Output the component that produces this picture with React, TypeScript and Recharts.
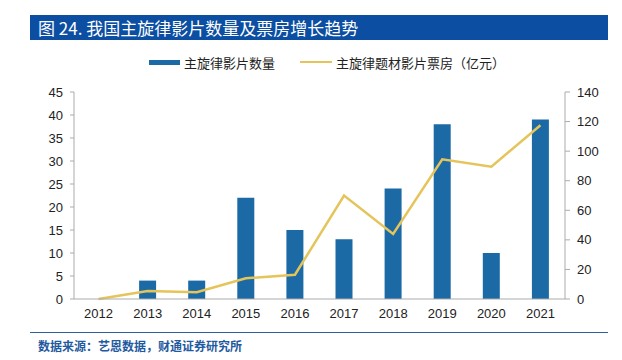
import React from "react";
import {
  ComposedChart,
  Bar,
  Line,
  XAxis,
  YAxis,
} from "recharts";

const years = ["2012", "2013", "2014", "2015", "2016", "2017", "2018", "2019", "2020", "2021"];
const filmCount = [0, 4, 4, 22, 15, 13, 24, 38, 10, 39];
const boxOffice = [0, 5.4, 4.6, 14, 16.4, 70, 44, 94.5, 89.5, 117.5];
const leftTicks = [0, 5, 10, 15, 20, 25, 30, 35, 40, 45];
const rightTicks = [0, 20, 40, 60, 80, 100, 120, 140];

const data = years.map((year, i) => ({
  year,
  count: filmCount[i],
  box: boxOffice[i],
}));

const BAR_COLOR = "#1B6AA5";
const LINE_COLOR = "#E5C45A";
const AXIS_COLOR = "#ababab";
const numFont = "'Liberation Sans', Arial, sans-serif";
const cjkFont = "'Noto Sans CJK SC', sans-serif";

export default function App() {
  return (
    <div
      style={{
        position: "absolute",
        left: 0,
        top: 0,
        width: 622,
        height: 360,
        background: "#fff",
        overflow: "hidden",
      }}
    >
      {/* title band */}
      <div
        style={{
          position: "absolute",
          left: 30,
          top: 15,
          width: 578,
          height: 25,
          background: "#0B4EA2",
          color: "#fff",
          fontFamily: cjkFont,
          fontSize: 17,
          lineHeight: "25px",
          paddingLeft: 8,
          boxSizing: "border-box",
        }}
      >
        图 24. 我国主旋律影片数量及票房增长趋势
      </div>

      {/* legend */}
      <div
        style={{
          position: "absolute",
          top: 53,
          left: 149,
          display: "flex",
          alignItems: "center",
          fontFamily: cjkFont,
          fontSize: 13,
          color: "#222",
          height: 18,
        }}
      >
        <span style={{ display: "inline-block", width: 31, height: 5, background: BAR_COLOR, marginRight: 4 }} />
        <span>主旋律影片数量</span>
        <span style={{ display: "inline-block", width: 32, height: 2, background: LINE_COLOR, marginLeft: 25, marginRight: 4 }} />
        <span>主旋律题材影片票房（亿元）</span>
      </div>

      <div style={{ position: "absolute", left: 0, top: 0 }}>
        <ComposedChart
          width={622}
          height={360}
          data={data}
          margin={{ top: 92, right: 17, left: 34, bottom: 31 }}
        >
          <XAxis
            dataKey="year"
            axisLine={{ stroke: AXIS_COLOR }}
            tickLine={false}
            tick={{ fill: "#222", fontSize: 13, fontFamily: numFont }}
            tickMargin={4}
            height={30}
            interval={0}
          />
          <YAxis
            yAxisId="left"
            domain={[0, 45]}
            ticks={leftTicks}
            width={40}
            axisLine={{ stroke: AXIS_COLOR }}
            tickLine={{ stroke: AXIS_COLOR }}
            tickSize={4}
            tickMargin={7}
            tick={{ fill: "#222", fontSize: 13, fontFamily: numFont }}
            interval={0}
          />
          <YAxis
            yAxisId="right"
            orientation="right"
            domain={[0, 140]}
            ticks={rightTicks}
            width={40}
            axisLine={{ stroke: AXIS_COLOR }}
            tickLine={{ stroke: AXIS_COLOR }}
            tickSize={5}
            tickMargin={7}
            tick={{ fill: "#222", fontSize: 13, fontFamily: numFont }}
            interval={0}
          />
          <Bar
            yAxisId="left"
            dataKey="count"
            fill={BAR_COLOR}
            barSize={17}
            isAnimationActive={false}
          />
          <Line
            yAxisId="right"
            dataKey="box"
            type="linear"
            stroke={LINE_COLOR}
            strokeWidth={2.5}
            dot={false}
            activeDot={false}
            isAnimationActive={false}
          />
        </ComposedChart>
      </div>

      {/* source */}
      <div
        style={{
          position: "absolute",
          left: 30,
          top: 332,
          width: 578,
          borderTop: "1.5px solid #2E5F9E",
        }}
      />
      <div
        style={{
          position: "absolute",
          left: 38,
          top: 337,
          fontFamily: cjkFont,
          fontSize: 12,
          fontWeight: 700,
          color: "#1F5AA0",
        }}
      >
        数据来源：艺恩数据，财通证券研究所
      </div>
    </div>
  );
}
